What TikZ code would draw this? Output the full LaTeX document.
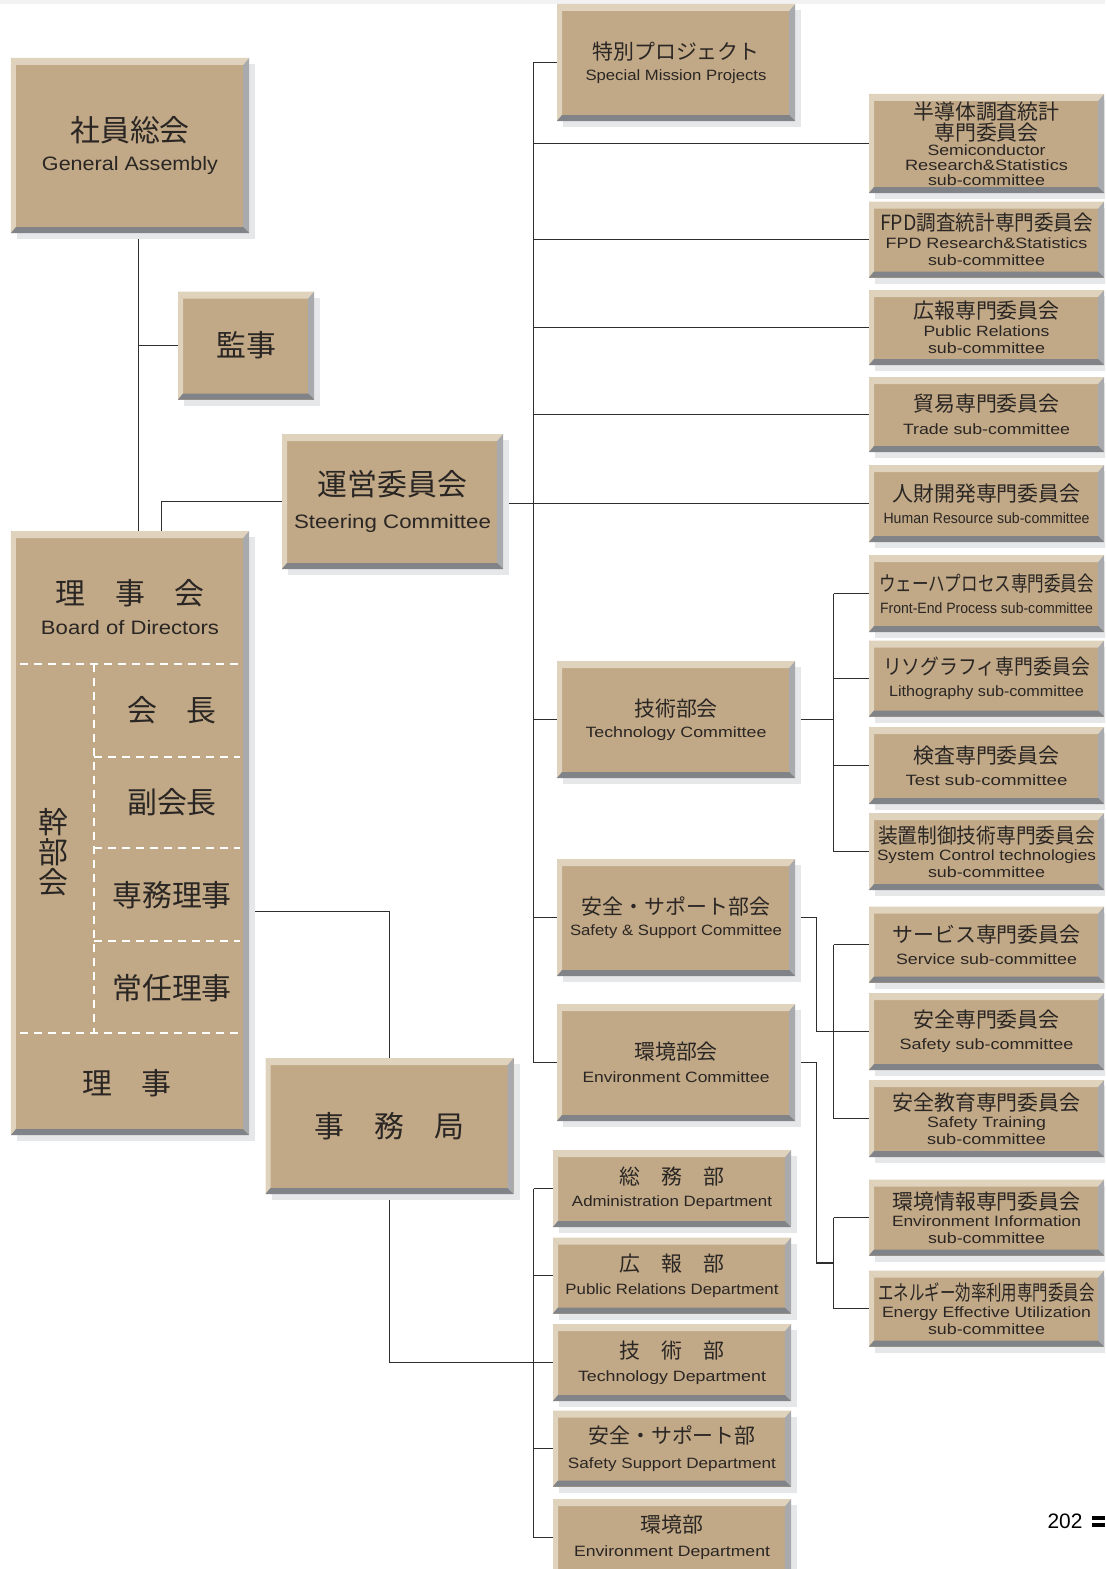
\documentclass[tikz,border=0pt]{standalone}
\usepackage{fontspec}
\usepackage{graphicx}
\setmainfont{Liberation Sans}
\newfontfamily\jpf{Noto Sans CJK JP}
\usetikzlibrary{calc}
\definecolor{boxfill}{HTML}{C1A886}
\definecolor{bevlight}{HTML}{E0D3BD}
\definecolor{bevdark}{HTML}{808388}
\definecolor{bevright}{HTML}{A8AAAE}
\definecolor{shadowc}{HTML}{E6E7E9}
\definecolor{linec}{HTML}{2E2E2E}
\definecolor{textc}{HTML}{2A2624}
\newcommand\jpbig{\jpf\fontsize{30}{30}\selectfont}
\newcommand\jpmid{\jpf\fontsize{21}{21}\selectfont}
\newcommand\enbig{\rmfamily\fontsize{19.5}{19.5}\selectfont}
\newcommand\ensm{\rmfamily\fontsize{15}{15}\selectfont}
\newcommand\ew[2]{\resizebox{#1bp}{\height}{#2}}
\pgfdeclarelayer{back}
\pgfdeclarelayer{bg}
\pgfsetlayers{back,bg,main}
\tikzset{
  panel/.style={rectangle, draw=none, inner sep=0pt, outer sep=0pt, fill=boxfill, text=textc, align=center,
    preaction={fill=shadowc, transform canvas={shift={(6bp,-6bp)}}},
    path picture={
      \fill[bevright] (path picture bounding box.north east) -- (path picture bounding box.south east) -- ([shift={(-6bp,6bp)}]path picture bounding box.south east) -- ([shift={(-6bp,-7bp)}]path picture bounding box.north east) -- cycle;
      \fill[bevlight] (path picture bounding box.north west) -- (path picture bounding box.north east) -- ([shift={(-6bp,-7bp)}]path picture bounding box.north east) -- ([shift={(5bp,-7bp)}]path picture bounding box.north west) -- cycle;
      \fill[bevlight] (path picture bounding box.north west) -- ([shift={(5bp,-7bp)}]path picture bounding box.north west) -- ([shift={(5bp,6bp)}]path picture bounding box.south west) -- (path picture bounding box.south west) -- cycle;
      \fill[bevdark] (path picture bounding box.south west) -- (path picture bounding box.south east) -- ([shift={(-6bp,6bp)}]path picture bounding box.south east) -- ([shift={(5bp,6bp)}]path picture bounding box.south west) -- cycle;
    }},
  sz/.style 2 args={minimum width=#1bp, minimum height=#2bp},
  bs/.style={font={\lineskiplimit=-100pt\fontsize{15}{#1}\selectfont}},
  label/.style={text=textc, inner sep=0pt, align=center},
  conn/.style={draw=linec, line width=1.2bp},
  dashln/.style={draw=white, line width=2.6bp, dash pattern=on 8bp off 6bp},
}
\begin{document}
\begin{tikzpicture}[x=1bp,y=-1bp]
\useasboundingbox (0,0) rectangle (1105,1569);
\clip (0,0) rectangle (1105,1569);
\begin{pgfonlayer}{back}
\fill[white] (0,0) rectangle (1105,1569);
\fill[black!5] (0,0) rectangle (1105,4);
\end{pgfonlayer}

% left column
\node[panel, sz={238}{175}, bs=28.6] (ga) at (130,145.5) {{\jpbig 社員総会}\\{\ew{176}{\enbig General Assembly}}};
\node[panel, sz={136}{108}] (kanji) at (246,345.5) {\jpbig 監事};
\node[panel, sz={221}{135}, bs=33.6] (steer) at (392.5,501.5) {{\jpbig 運営委員会}\\{\ew{197}{\enbig Steering Committee}}};
\node[panel, sz={238}{604}] (board) at (130,833) {};
\node[panel, sz={248}{136}] (jimu) at (389.5,1126) {\jpbig 事　務　局};

% board interior
\draw[dashln] (20,664) -- (240,664);
\draw[dashln] (94,664) -- (94,1033);
\draw[dashln] (94,757) -- (240,757);
\draw[dashln] (94,848) -- (240,848);
\draw[dashln] (94,941) -- (240,941);
\draw[dashln] (20,1033) -- (240,1033);
\node[label, bs=29.6] (bt) at (130,607) {{\jpbig 理　事　会}\\{\ew{178}{\enbig Board of Directors}}};
\node[label] (kaicho) at (172,710) {\jpbig 会　長};
\node[label] (fuku) at (172,802) {\jpbig 副会長};
\node[label] (senmu) at (172,895) {\jpbig 専務理事};
\node[label] (jonin) at (172,988) {\jpbig 常任理事};
\node[label, bs=30] (kanbu) at (53,852) {{\jpbig 幹}\\{\jpbig 部}\\{\jpbig 会}};
\node[label] (riji) at (127,1083) {\jpbig 理　事};

% middle column
\node[panel, sz={238}{117}, bs=21.5] (spx) at (676,62.5) {{\jpmid 特別プロジェクト}\\{\ew{181}{\ensm Special Mission Projects}}};
\node[panel, sz={238}{117}, bs=21.5] (tech) at (676,719.5) {{\jpmid 技術部会}\\{\ew{181}{\ensm Technology Committee}}};
\node[panel, sz={238}{117}, bs=21.5] (safe) at (676,917.5) {{\jpmid 安全・サポート部会}\\{\ew{212}{\ensm Safety \& Support Committee}}};
\node[panel, sz={238}{117}, bs=23.5] (env) at (676,1062.5) {{\jpmid 環境部会}\\{\ew{187}{\ensm Environment Committee}}};

% departments
\node[panel, sz={238}{77}, bs=22.5] (d1) at (672,1188.5) {{\jpmid 総　務　部}\\{\ew{200}{\ensm Administration Department}}};
\node[panel, sz={238}{76}, bs=23.4] (d2) at (672,1275.5) {{\jpmid 広　報　部}\\{\ew{213}{\ensm Public Relations Department}}};
\node[panel, sz={238}{77}, bs=23.4] (d3) at (672,1362.5) {{\jpmid 技　術　部}\\{\ew{188}{\ensm Technology Department}}};
\node[panel, sz={238}{76}, bs=24.4] (d4) at (672,1448.5) {{\jpmid 安全・サポート部}\\{\ew{208}{\ensm Safety Support Department}}};
\node[panel, sz={238}{77}, bs=24.4] (d5) at (672,1537.5) {{\jpmid 環境部}\\{\ew{196}{\ensm Environment Department}}};

% right column
\node[panel, sz={235}{99}, bs=15] (r1) at (986.5,143.5) {{\jpmid 半導体調査統計}\\[6.5bp]{\jpmid 専門委員会}\\{\ew{118}{\ensm Semiconductor}}\\{\ew{163}{\ensm Research\&Statistics}}\\{\ew{117}{\ensm sub-committee}}};
\node[panel, sz={235}{76}, bs=17.5] (r2) at (986.5,239.5) {{\ew{213}{\jpmid FPD調査統計専門委員会}}\\{\ew{202}{\ensm FPD Research\&Statistics}}\\{\ew{117}{\ensm sub-committee}}};
\node[panel, sz={235}{75}, bs=17.5] (r3) at (986.5,327.5) {{\jpmid 広報専門委員会}\\{\ew{126}{\ensm Public Relations}}\\{\ew{117}{\ensm sub-committee}}};
\node[panel, sz={235}{75}, bs=22.5] (r4) at (986.5,414.5) {{\jpmid 貿易専門委員会}\\{\ew{167}{\ensm Trade sub-committee}}};
\node[panel, sz={235}{77}, bs=22.5] (r5) at (986.5,503.5) {{\jpmid 人財開発専門委員会}\\{\ew{206}{\ensm Human Resource sub-committee}}};
\node[panel, sz={235}{77}, bs=22.5] (r6) at (986.5,593.5) {{\ew{215}{\jpmid ウェーハプロセス専門委員会}}\\{\ew{213}{\ensm Front-End Process sub-committee}}};
\node[panel, sz={235}{76}, bs=22.5] (r7) at (986.5,678.5) {{\ew{207}{\jpmid リソグラフィ専門委員会}}\\{\ew{195}{\ensm Lithography sub-committee}}};
\node[panel, sz={235}{77}, bs=22.5] (r8) at (986.5,765.5) {{\jpmid 検査専門委員会}\\{\ew{162}{\ensm Test sub-committee}}};
\node[panel, sz={235}{77}, bs=17] (r9) at (986.5,851.5) {{\ew{217}{\jpmid 装置制御技術専門委員会}}\\{\ew{219}{\ensm System Control technologies}}\\{\ew{117}{\ensm sub-committee}}};
\node[panel, sz={235}{76}, bs=22.5] (r10) at (986.5,944.5) {{\jpmid サービス専門委員会}\\{\ew{181}{\ensm Service sub-committee}}};
\node[panel, sz={235}{77}, bs=22.5] (r11) at (986.5,1031.5) {{\jpmid 安全専門委員会}\\{\ew{174}{\ensm Safety sub-committee}}};
\node[panel, sz={235}{77}, bs=17] (r12) at (986.5,1118.5) {{\jpmid 安全教育専門委員会}\\{\ew{119}{\ensm Safety Training}}\\{\ew{119}{\ensm sub-committee}}};
\node[panel, sz={235}{76}, bs=17] (r13) at (986.5,1217.5) {{\jpmid 環境情報専門委員会}\\{\ew{189}{\ensm Environment Information}}\\{\ew{117}{\ensm sub-committee}}};
\node[panel, sz={235}{76}, bs=17] (r14) at (986.5,1308.5) {{\ew{216}{\jpmid エネルギー効率利用専門委員会}}\\{\ew{209}{\ensm Energy Effective Utilization}}\\{\ew{117}{\ensm sub-committee}}};

% page number
\node[text=black, inner sep=0pt, font=\rmfamily\fontsize{21}{21}\selectfont] (pg) at (1065,1521) {202};
\fill[black] (1092,1515.5) rectangle (1105,1519.5);
\fill[black] (1092,1523) rectangle (1105,1527);

% connectors
\begin{pgfonlayer}{bg}
\coordinate (cx1) at (138.5,0);
\coordinate (cx2) at (161.5,0);
\coordinate (sx) at (533.5,0);
\coordinate (mx) at (816.5,0);
\coordinate (bx) at (833.5,0);
\coordinate (sj) at (0,911.5);
\coordinate (em) at ($(r13.west)!0.5!(r14.west)$);
\draw[conn] (cx1 |- ga.south) -- (cx1 |- board.north);
\draw[conn] (cx1 |- kanji.west) -- (kanji.west);
\draw[conn] (cx2 |- board.north) |- (steer.west);
\draw[conn] (r5.west -| steer.east) -- (r5.west);
\draw[conn] (sx |- spx.west) -- (sx |- env.west);
\foreach \n in {spx,r1,r2,r3,r4,tech,safe,env} \draw[conn] (sx |- \n.west) -- (\n.west);
\draw[conn] (tech.east) -- (bx |- tech.east);
\draw[conn] (bx |- r6.west) -- (bx |- r9.west);
\foreach \n in {r6,r7,r8,r9} \draw[conn] (bx |- \n.west) -- (\n.west);
\draw[conn] (safe.east) -| (mx |- r11.west) -- (r11.west);
\draw[conn] (bx |- r10.west) -- (bx |- r12.west);
\foreach \n in {r10,r12} \draw[conn] (bx |- \n.west) -- (\n.west);
\draw[conn] (env.east) -| (mx |- em) -- (bx |- em);
\draw[conn] (bx |- r13.west) -- (bx |- r14.west);
\foreach \n in {r13,r14} \draw[conn] (bx |- \n.west) -- (\n.west);
\draw[conn] (board.east |- sj) -| (jimu.north);
\draw[conn] (jimu.south) |- (d3.west);
\draw[conn] (sx |- d1.west) -- (sx |- d5.west);
\foreach \n in {d1,d2,d4,d5} \draw[conn] (sx |- \n.west) -- (\n.west);
\end{pgfonlayer}
\end{tikzpicture}
\end{document}
